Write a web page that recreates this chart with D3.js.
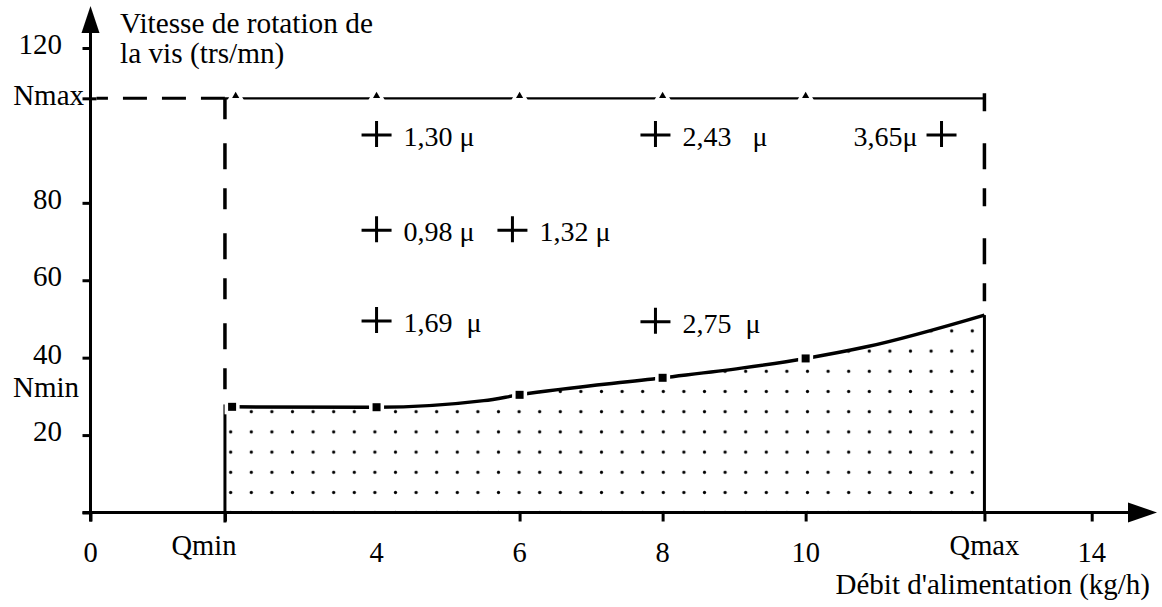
<!DOCTYPE html>
<html>
<head>
<meta charset="utf-8">
<script src="https://cdn.jsdelivr.net/npm/d3@7"></script>
<style>
  html, body { margin: 0; padding: 0; background: #fff; }
  svg { display: block; }
  text { font-family: "Liberation Serif", "Times New Roman", "DejaVu Serif", serif; fill: #000; }
</style>
</head>
<body>
<svg id="chart" width="1162" height="607"></svg>
<script>
// ---- data ----
const Q_MIN = 1.88, Q_MAX = 12.5;
const N_MAX = 107, N_MIN_LABEL = 31.4;

const yTickValues = [0, 20, 40, 60, 80, 120];
const yTickLabels = ["", "20", "40", "60", "80", "120"];
const xTickValues = [0, Q_MIN, 6, 8, 10, Q_MAX, 14];
const xLabelValues = [0, Q_MIN, 4, 6, 8, 10, Q_MAX, 14];
const xLabelTexts = ["0", "Qmin", "4", "6", "8", "10", "Qmax", "14"];

// lower limit curve (minimum screw speed vs feed rate)
const curveQ = [Q_MIN, 1.98, 4, 5.5, 6, 8, 9.1, 10, 10.85, Q_MAX];
const curveN = [27.4, 27.3, 27.2, 28.9, 30.4, 34.8, 37.3, 39.8, 42.8, 51.0];

// measured points on the curve (square markers)
const markerQ = [1.98, 4, 6, 8, 10];
const markerN = [27.3, 27.2, 30.4, 34.8, 39.8];

// markers on the Nmax line
const nmaxMarkQ = [2.03, 4, 6, 8, 10];

// experimental points with particle size labels
const crossQ = [4, 4, 5.9, 4, 7.9, 11.9, 7.9];
const crossN = [97.5, 72.9, 72.9, 49.5, 97.5, 97.5, 49.3];
const crossLabels = ["1,30 μ", "0,98 μ", "1,32 μ", "1,69  μ", "2,43   μ", "3,65μ", "2,75  μ"];
const crossLabelLeft = [false, false, false, false, false, true, false];

const yTitle = ["Vitesse de rotation de", "la vis (trs/mn)"];
const xTitle = "Débit d'alimentation (kg/h)";

// ---- scales ----
const x = d3.scaleLinear().domain([0, 14]).range([90.5, 1091.7]);
const y = d3.scaleLinear().domain([0, 120]).range([512.5, 48]);

const svg = d3.select("#chart");
svg.append("rect").attr("width", 1162).attr("height", 607).attr("fill", "#fff");

// dotted pattern
const defs = svg.append("defs");
const pat = defs.append("pattern")
  .attr("id", "dots").attr("patternUnits", "userSpaceOnUse")
  .attr("width", 20.6).attr("height", 20.2)
  .attr("x", 230.7 - 10.3).attr("y", 411.7 - 10.1);
pat.append("circle").attr("cx", 10.3).attr("cy", 10.1).attr("r", 1.6).attr("fill", "#000");

const curveData = curveQ.map((q, i) => [q, curveN[i]]);

// filled operating region
const area = d3.area().x(d => x(d[0])).y0(y(0)).y1(d => y(d[1])).curve(d3.curveMonotoneX);
svg.append("path").datum(curveData).attr("d", area).attr("fill", "url(#dots)");

// ---- axes ----
const xAxis = d3.axisBottom(x).tickValues(xTickValues).tickSize(9).tickSizeOuter(0).tickFormat("");
const gx = svg.append("g").attr("transform", `translate(0,${y(0)})`).call(xAxis);
gx.select(".domain").remove();
gx.selectAll(".tick line").attr("stroke", "#000").attr("stroke-width", 3);

const yAxis = d3.axisLeft(y).tickValues(yTickValues.concat([N_MAX])).tickSize(8).tickSizeOuter(0).tickFormat("");
const gy = svg.append("g").attr("transform", `translate(${x(0)},0)`).call(yAxis);
gy.select(".domain").remove();
gy.selectAll(".tick line").attr("stroke", "#000").attr("stroke-width", 3)
  .filter(d => d === N_MAX).attr("x2", -8).attr("x1", 6);

// axis lines with arrows
svg.append("line").attr("x1", x(0) - 8).attr("x2", 1135).attr("y1", y(0)).attr("y2", y(0))
  .attr("stroke", "#000").attr("stroke-width", 3);
svg.append("path")
  .attr("d", `M1157,${y(0)} L1128,${y(0) - 10} L1128,${y(0) + 10} Z`).attr("fill", "#000");
svg.append("line").attr("x1", x(0)).attr("x2", x(0)).attr("y1", y(0) + 9).attr("y2", 28)
  .attr("stroke", "#000").attr("stroke-width", 3);
svg.append("path")
  .attr("d", `M${x(0)},6 L${x(0) - 9},33 L${x(0) + 9},33 Z`).attr("fill", "#000");

// y tick labels
svg.append("g").selectAll("text").data(yTickValues).join("text")
  .attr("x", 62).attr("y", d => y(d) + 6).attr("text-anchor", "end")
  .attr("font-size", 29).text((d, i) => yTickLabels[i]);
svg.append("text").attr("x", 84).attr("y", y(N_MAX) + 7).attr("text-anchor", "end")
  .attr("font-size", 29).text("Nmax");
svg.append("text").attr("x", 79).attr("y", y(N_MIN_LABEL) + 6).attr("text-anchor", "end")
  .attr("font-size", 29).text("Nmin");

// x tick labels
svg.append("g").selectAll("text").data(xLabelValues).join("text")
  .attr("x", (d, i) => x(d) + (xLabelTexts[i] === "Qmin" ? -21 : 0))
  .attr("y", (d, i) => xLabelTexts[i].startsWith("Q") ? 555 : 562)
  .attr("text-anchor", "middle").attr("font-size", 28.5)
  .text((d, i) => xLabelTexts[i]);

// axis titles
svg.append("text").attr("x", 1150).attr("y", 594).attr("text-anchor", "end")
  .attr("font-size", 29).text(xTitle);
svg.append("g").selectAll("text").data(yTitle).join("text")
  .attr("x", 120).attr("y", (d, i) => 33 + i * 30).attr("font-size", 29.3).text(d => d);

// ---- limit lines ----
const yCurveStart = curveN[0];
const yCurveEnd = curveN[curveN.length - 1];
// Nmax dashed part (axis -> Qmin)
svg.append("line").attr("x1", x(Q_MIN)).attr("x2", x(0) + 6).attr("y1", y(N_MAX)).attr("y2", y(N_MAX))
  .attr("stroke", "#000").attr("stroke-width", 3).attr("stroke-dasharray", "24,15");
// Nmax solid part
svg.append("line").attr("x1", x(Q_MIN)).attr("x2", x(Q_MAX)).attr("y1", y(N_MAX)).attr("y2", y(N_MAX))
  .attr("stroke", "#000").attr("stroke-width", 2.2);
// Qmin vertical
svg.append("line").attr("x1", x(Q_MIN)).attr("x2", x(Q_MIN)).attr("y1", y(N_MAX)).attr("y2", y(yCurveStart) - 4)
  .attr("stroke", "#000").attr("stroke-width", 3.5).attr("stroke-dasharray", "21,24,26,19");
svg.append("line").attr("x1", x(Q_MIN)).attr("x2", x(Q_MIN)).attr("y1", y(yCurveStart) - 2).attr("y2", y(0) + 10)
  .attr("stroke", "#000").attr("stroke-width", 3);
// Qmax vertical
svg.append("line").attr("x1", x(Q_MAX)).attr("x2", x(Q_MAX)).attr("y1", y(N_MAX) - 5).attr("y2", y(yCurveEnd) - 4)
  .attr("stroke", "#000").attr("stroke-width", 3.5).attr("stroke-dasharray", "18,32,26,19");
svg.append("line").attr("x1", x(Q_MAX)).attr("x2", x(Q_MAX)).attr("y1", y(yCurveEnd)).attr("y2", y(0))
  .attr("stroke", "#000").attr("stroke-width", 3);

// curve
const line = d3.line().x(d => x(d[0])).y(d => y(d[1])).curve(d3.curveMonotoneX);
svg.append("path").datum(curveData).attr("d", line)
  .attr("fill", "none").attr("stroke", "#000").attr("stroke-width", 3.5);

// square markers (with white halo to create gaps in the line)
svg.append("g").selectAll("rect").data(markerQ).join("rect")
  .attr("x", d => x(d) - 4).attr("y", (d, i) => y(markerN[i]) - 4)
  .attr("width", 8).attr("height", 8)
  .attr("fill", "#000").attr("stroke", "#fff").attr("stroke-width", 7)
  .style("paint-order", "stroke");

// triangle markers on Nmax line
const tri = d3.symbol().type(d3.symbolTriangle).size(22);
svg.append("g").selectAll("path").data(nmaxMarkQ).join("path")
  .attr("transform", d => `translate(${x(d)},${y(N_MAX) - 2.5})`)
  .attr("d", tri).attr("fill", "#000").attr("stroke", "#fff").attr("stroke-width", 6)
  .style("paint-order", "stroke");

// crosses
const gc = svg.append("g");
crossQ.forEach((q, i) => {
  const cx = x(q), cy = y(crossN[i]);
  gc.append("path")
    .attr("d", `M${cx - 15},${cy}H${cx + 15}M${cx},${cy - 14}V${cy + 12}`)
    .attr("stroke", "#000").attr("stroke-width", 3).attr("fill", "none");
  gc.append("text")
    .attr("x", crossLabelLeft[i] ? cx - 24 : cx + 27)
    .attr("y", cy + 11)
    .attr("text-anchor", crossLabelLeft[i] ? "end" : "start")
    .attr("font-size", 28).style("white-space", "pre")
    .text(crossLabels[i]);
});
</script>
</body>
</html>
